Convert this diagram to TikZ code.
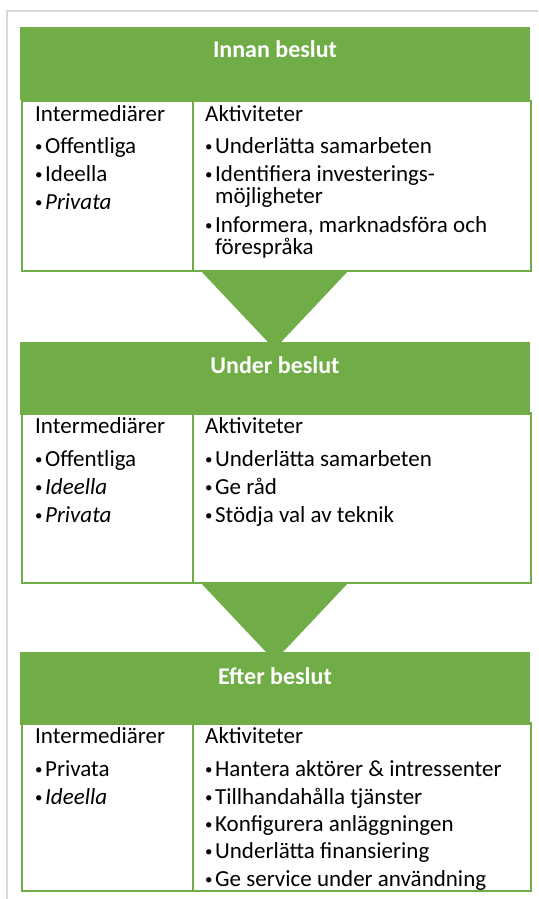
\documentclass[tikz,border=0pt]{standalone}
\usepackage{fontspec}
\setmainfont{Carlito}
\definecolor{leaf}{HTML}{70AD47}
\definecolor{framegray}{HTML}{D9D9D9}
\newcommand{\dotmark}{\raisebox{1.6pt}{\scalebox{0.65}{\textbullet}}\hspace{2.5pt}}
\newcommand{\bul}{\dotmark}
\newcommand{\cont}{\phantom{\dotmark}}
\begin{document}
\begin{tikzpicture}[x=1pt,y=-1pt,
  phasehead/.style={fill=leaf, draw=none, minimum width=510pt, minimum height=73pt,
    inner sep=0pt, anchor=north west},
  phasetitle/.style={text=white, font=\fontsize{24}{28}\selectfont\bfseries,
    inner sep=0pt, anchor=base},
  phasetable/.style={fill=white, draw=leaf, line width=1.6pt, minimum width=509pt,
    inner sep=0pt, anchor=north west},
  coldivider/.style={draw=leaf, line width=1.6pt},
  cell/.style={font=\fontsize{23}{27}\selectfont, inner sep=0pt, anchor=base west},
  funnel/.style={fill=leaf, draw=none}
]
\useasboundingbox (0,0) rectangle (538,899);

% outer frame
\draw[framegray, line width=2pt] (7,899) -- (7,11) -- (538,11);

% funnels between the phases
\fill[funnel] (199,269) -- (350,269) -- (274.5,349) -- cycle;
\fill[funnel] (199,581) -- (350,581) -- (274.5,661) -- cycle;

% phase 1
\node[phasetable, minimum height=170pt] (t1) at (21,100) {};
\draw[coldivider] (193,100) -- (193,270);
\node[phasehead] (h1) at (20,27) {};
\node[phasetitle] (h1t) at (275,58) {Innan beslut};
\node[cell] (l1a) at (35,121) {Intermediärer};
\node[cell] (l1b) at (35,153) {\bul Offentliga};
\node[cell] (l1c) at (35,181) {\bul Ideella};
\node[cell] (l1d) at (35,209) {\bul\textit{Privata}};
\node[cell] (r1a) at (205,121) {Aktiviteter};
\node[cell] (r1b) at (205,153) {\bul Underlätta samarbeten};
\node[cell] (r1c) at (205,181) {\bul Identifiera investerings-};
\node[cell] (r1d) at (205,203) {\cont möjligheter};
\node[cell] (r1e) at (205,232) {\bul Informera, marknadsföra och};
\node[cell] (r1f) at (205,254) {\cont förespråka};

% phase 2
\node[phasetable, minimum height=170pt] (t2) at (21,412) {};
\draw[coldivider] (193,412) -- (193,582);
\node[phasehead] (h2) at (20,342) {};
\node[phasetitle] (h2t) at (275,373) {Under beslut};
\node[cell] (l2a) at (35,433) {Intermediärer};
\node[cell] (l2b) at (35,466) {\bul Offentliga};
\node[cell] (l2c) at (35,494) {\bul\textit{Ideella}};
\node[cell] (l2d) at (35,522) {\bul\textit{Privata}};
\node[cell] (r2a) at (205,433) {Aktiviteter};
\node[cell] (r2b) at (205,466) {\bul Underlätta samarbeten};
\node[cell] (r2c) at (205,494) {\bul Ge råd};
\node[cell] (r2d) at (205,522) {\bul Stödja val av teknik};

% phase 3
\node[phasetable, minimum height=168pt] (t3) at (21,722) {};
\draw[coldivider] (193,722) -- (193,890);
\node[phasehead] (h3) at (20,652) {};
\node[phasetitle] (h3t) at (275,684) {Efter beslut};
\node[cell] (l3a) at (35,743) {Intermediärer};
\node[cell] (l3b) at (35,776) {\bul Privata};
\node[cell] (l3c) at (35,804) {\bul\textit{Ideella}};
\node[cell] (r3a) at (205,743) {Aktiviteter};
\node[cell] (r3b) at (205,776) {\bul Hantera aktörer \& intressenter};
\node[cell] (r3c) at (205,804) {\bul Tillhandahålla tjänster};
\node[cell] (r3d) at (205,831) {\bul Konfigurera anläggningen};
\node[cell] (r3e) at (205,858) {\bul Underlätta finansiering};
\node[cell] (r3f) at (205,886) {\bul Ge service under användning};
\end{tikzpicture}
\end{document}
